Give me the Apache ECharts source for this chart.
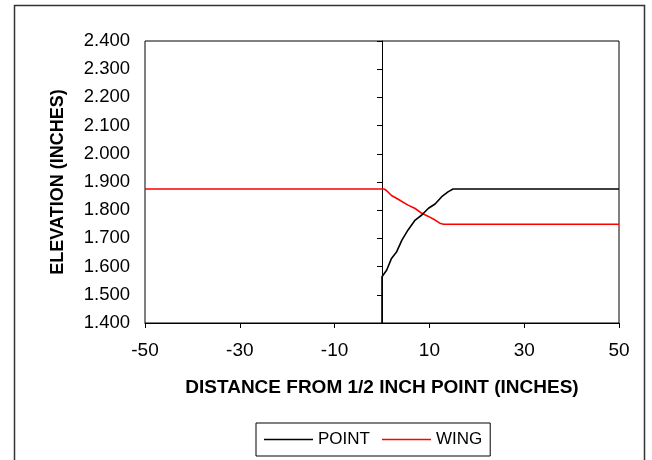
<!DOCTYPE html>
<html><head><meta charset="utf-8">
<script src="https://cdn.jsdelivr.net/npm/echarts@6/dist/echarts.min.js"></script>
<style>html,body{margin:0;padding:0;background:#fff}#c{width:652px;height:460px}</style>
</head><body><div id="c"></div>
<script>
var pointX = [0, 0, 1.0, 2.0, 3.1, 4.2, 5.5, 7.0, 8.4, 9.8, 11.2, 12.6, 14.0, 15.0, 50];
var pointY = [1.4, 1.564, 1.588, 1.629, 1.653, 1.694, 1.73, 1.765, 1.783, 1.807, 1.822, 1.848, 1.866, 1.875, 1.875];
var wingX = [-50, 0.5, 1.0, 2.0, 3.5, 5.5, 7.0, 8.4, 9.8, 11.2, 12.2, 13.0, 50];
var wingY = [1.875, 1.875, 1.869, 1.852, 1.838, 1.818, 1.806, 1.789, 1.778, 1.765, 1.754, 1.75, 1.75];
var xTicks = [-50, -30, -10, 10, 30, 50];
var yTicks = [1.4, 1.5, 1.6, 1.7, 1.8, 1.9, 2.0, 2.1, 2.2, 2.3, 2.4];
var seriesNames = ['POINT', 'WING'];

function pairs(xs, ys) { return xs.map(function (x, i) { return [x, ys[i]]; }); }

var FONT = 'Liberation Sans';
var chart = echarts.init(document.getElementById('c'));
chart.setOption({
  animation: false,
  backgroundColor: '#fff',
  textStyle: { fontFamily: FONT },
  graphic: [{
    type: 'rect', shape: { x: 14.5, y: 5.5, width: 630, height: 470 },
    style: { fill: 'none', stroke: '#333', lineWidth: 1.5 }, silent: true, z: -1
  }],
  grid: { left: 145, top: 41, right: 33, bottom: 137, show: true, borderColor: '#000', borderWidth: 1, backgroundColor: '#fff' },
  legend: {
    data: seriesNames, left: 256, top: 423, width: 237, height: 34,
    padding: [8, 8], itemGap: 12, itemWidth: 49, itemHeight: 14,
    borderColor: '#000', borderWidth: 1,
    icon: 'path://M0,7L49,7L49,8.5L0,8.5Z',
    textStyle: { fontFamily: FONT, fontSize: 17, color: '#000', padding: [0, 0, 0, 0] }
  },
  xAxis: {
    type: 'value', min: xTicks[0], max: xTicks[xTicks.length - 1], interval: 20,
    name: 'DISTANCE FROM 1/2 INCH POINT (INCHES)', nameLocation: 'middle', nameGap: 55,
    nameTextStyle: { fontFamily: FONT, fontWeight: 'bold', fontSize: 19, color: '#000' },
    axisLine: { onZero: false, lineStyle: { color: '#000', width: 1 } },
    axisTick: { show: true, inside: false, length: 5, lineStyle: { color: '#000' } },
    axisLabel: { fontSize: 19, color: '#000', margin: 18, fontFamily: FONT },
    splitLine: { show: false }
  },
  yAxis: [{
    type: 'value', min: yTicks[0], max: yTicks[yTicks.length - 1], interval: 0.1,
    name: 'ELEVATION (INCHES)', nameLocation: 'middle', nameGap: 78, nameRotate: 90,
    nameTextStyle: { fontFamily: FONT, fontWeight: 'bold', fontSize: 18, color: '#000' },
    axisLine: { show: false, onZero: false },
    axisTick: { show: false },
    axisLabel: { fontSize: 18.5, color: '#000', margin: 15, fontFamily: FONT,
      formatter: function (v) { return v.toFixed(3); } },
    splitLine: { show: false }
  }, {
    type: 'value', position: 'left', min: yTicks[0], max: yTicks[yTicks.length - 1], interval: 0.1,
    axisLine: { show: true, onZero: true, lineStyle: { color: '#000', width: 1 } },
    axisTick: { show: true, inside: false, length: 5, lineStyle: { color: '#000' } },
    axisLabel: { show: false },
    splitLine: { show: false }
  }],
  series: [{
    name: seriesNames[0], type: 'line', data: pairs(pointX, pointY), showSymbol: false, symbol: 'none',
    lineStyle: { color: '#000', width: 1.6 }, itemStyle: { color: '#000' }, clip: true, z: 3
  }, {
    name: seriesNames[1], type: 'line', data: pairs(wingX, wingY), showSymbol: false, symbol: 'none',
    lineStyle: { color: '#ff0000', width: 1.6 }, itemStyle: { color: '#ff0000' }, clip: true, z: 2
  }]
});
</script></body></html>
